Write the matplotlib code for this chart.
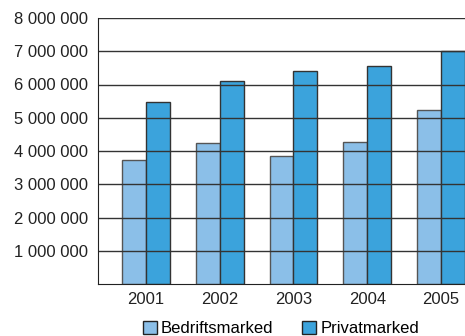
import matplotlib
matplotlib.use("Agg")
import matplotlib.pyplot as plt
import numpy as np

years = ["2001", "2002", "2003", "2004", "2005"]
bedrift = [3730000, 4250000, 3860000, 4270000, 5240000]
privat = [5470000, 6100000, 6400000, 6560000, 7000000]
yticks = [1000000, 2000000, 3000000, 4000000, 5000000, 6000000, 7000000, 8000000]

light = "#8bbfe8"
dark = "#3ba3dc"

plt.rcParams['font.family'] = ['Liberation Sans', 'DejaVu Sans']

fig = plt.figure(figsize=(4.65, 3.36), dpi=100)
ax = fig.add_axes([98 / 465, 1 - 284 / 336, 1 - 98 / 465, 266 / 336])

x = np.arange(len(years))
w = 0.325
ax.bar(x - w / 2, bedrift, w, color=light, edgecolor="#555555", linewidth=1, label="Bedriftsmarked", zorder=2)
ax.bar(x + w / 2, privat, w, color=dark, edgecolor="#333333", linewidth=1, label="Privatmarked", zorder=2)

ax.set_xlim(-0.65, 4.0 + w)
ax.set_ylim(0, 8000000)
ax.set_yticks(yticks)
ax.set_yticklabels([f"{v:,}".replace(",", " ") for v in yticks], fontsize=12, color="#222222")
ax.set_xticks(x)
ax.set_xticklabels(years, fontsize=12, color="#222222")
ax.tick_params(axis="both", length=0)
ax.tick_params(axis="y", pad=7)
ax.tick_params(axis="x", pad=6)

for v in yticks:
    ax.axhline(v, color="#333333", linewidth=1, zorder=3)

for s in ["top", "right"]:
    ax.spines[s].set_visible(False)
ax.spines["left"].set_color("#222222")
ax.spines["bottom"].set_color("#222222")
ax.spines["left"].set_zorder(4)

leg = fig.legend(loc="lower center", bbox_to_anchor=(0.604, -0.045), ncol=2, frameon=False,
                 fontsize=12, handlelength=0.85, handleheight=0.85, handletextpad=0.25, columnspacing=1.7)
for h in leg.legend_handles:
    h.set_edgecolor("#222222")

fig.savefig("out.png", dpi=100)
